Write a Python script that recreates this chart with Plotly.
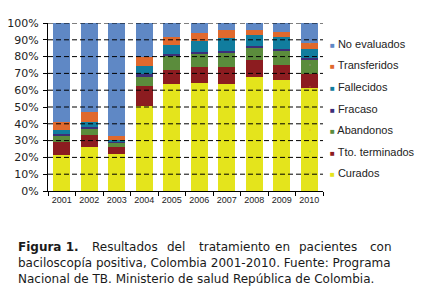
import plotly.graph_objects as go

years = ["2001", "2002", "2003", "2004", "2005", "2006", "2007", "2008", "2009", "2010"]
curados = [21.5, 26.0, 22.2, 50.4, 63.9, 64.2, 63.4, 67.8, 65.8, 61.6]
tto_terminados = [7.9, 7.5, 4.0, 12.3, 8.0, 9.4, 10.7, 9.9, 9.5, 8.1]
abandonos = [3.2, 3.8, 2.5, 5.7, 8.8, 8.0, 8.5, 7.3, 8.5, 8.0]
fracaso = [1.3, 1.0, 0.6, 1.0, 0.9, 1.4, 1.0, 1.4, 0.9, 1.2]
fallecidos = [2.3, 2.6, 1.3, 5.2, 5.6, 6.4, 7.3, 6.5, 6.8, 5.6]
transferidos = [4.6, 6.0, 2.4, 5.1, 4.4, 4.5, 5.0, 3.1, 3.0, 3.4]
no_evaluados = [59.2, 53.1, 67.0, 20.3, 8.4, 6.1, 4.1, 4.0, 5.5, 12.1]

series_names = ["Curados", "Tto. terminados", "Abandonos", "Fracaso",
                "Fallecidos", "Transferidos", "No evaluados"]
series_values = [curados, tto_terminados, abandonos, fracaso,
                 fallecidos, transferidos, no_evaluados]
colors = ["#e4e41c", "#8c1c20", "#5b8c3c", "#3d2f78",
          "#117d9e", "#e0692d", "#5f88c5"]

y_tickvals = [0, 10, 20, 30, 40, 50, 60, 70, 80, 90, 100]
y_ticktext = ["0%", "10%", "20%", "30%", "40%", "50%", "60%", "70%", "80%", "90%", "100%"]

caption_line1 = ["<b>Figura 1.</b>", "Resultados", "del", "tratamiento", "en", "pacientes", "con"]
caption_line2 = "baciloscopía positiva, Colombia 2001-2010. Fuente: Programa"
caption_line3 = "Nacional de TB. Ministerio de salud República de Colombia."

fig = go.Figure()
for name, vals, col in zip(series_names, series_values, colors):
    fig.add_trace(go.Bar(x=years, y=vals, name=name, marker=dict(color=col, line=dict(width=0)),
                         showlegend=False))

# legend entries (small squares right next to the labels), top entry = top of stack
for i, (name, col) in enumerate(zip(series_names[::-1], colors[::-1])):
    label = f'<span style="color:{col};font-size:8px">■</span> {name}'
    fig.add_trace(go.Scatter(x=[None], y=[None], mode="markers", name=label,
                             marker=dict(opacity=0, size=1), legendgroup=f"g{i}",
                             showlegend=True))

# dashed gridlines drawn above bars
for v in y_tickvals[1:]:
    fig.add_shape(type="line", xref="paper", x0=0, x1=1, yref="y", y0=v, y1=v,
                  line=dict(color="black", width=1, dash="5px,3px"), layer="above")

W, H = 421, 299
ml, mr, mt, mb = 48, 98, 23, 108
pw, ph = W - ml - mr, H - mt - mb


def px2paper_x(p):
    return (p - ml) / pw


def px2paper_y(q):
    return (H - mb - q) / ph


cap_font = dict(family="DejaVu Sans", size=12, color="#1a1a1a")
line1_x = [16, 90, 165, 196.7, 272.7, 297, 367.7]
for w, xp in zip(caption_line1, line1_x):
    fig.add_annotation(text=w, xref="paper", yref="paper", x=px2paper_x(xp), y=px2paper_y(247),
                       xanchor="left", yanchor="middle", showarrow=False, font=cap_font)
fig.add_annotation(text=caption_line2, xref="paper", yref="paper", x=px2paper_x(16), y=px2paper_y(263),
                   xanchor="left", yanchor="middle", showarrow=False, font=cap_font)
fig.add_annotation(text=caption_line3, xref="paper", yref="paper", x=px2paper_x(16), y=px2paper_y(279),
                   xanchor="left", yanchor="middle", showarrow=False, font=cap_font)

fig.update_layout(
    barmode="stack",
    bargap=0.39,
    width=W, height=H,
    margin=dict(l=ml, r=mr, t=mt, b=mb, autoexpand=False),
    paper_bgcolor="white", plot_bgcolor="white",
    showlegend=True,
    legend=dict(x=px2paper_x(290), xanchor="left", y=px2paper_y(29), yanchor="top",
                traceorder="grouped", tracegroupgap=2.6,
                font=dict(family="Liberation Sans", size=11, color="#222"),
                bgcolor="rgba(0,0,0,0)", borderwidth=0, itemclick=False),
    xaxis=dict(type="category", showline=True, linecolor="black", linewidth=1,
               ticks="outside", tickson="boundaries", ticklen=4, tickcolor="black",
               tickangle=0,
               tickfont=dict(family="Liberation Sans", size=9, color="#222"),
               showgrid=False, zeroline=False),
    yaxis=dict(range=[0, 100], tickvals=y_tickvals, ticktext=y_ticktext,
               showline=True, linecolor="black", linewidth=1,
               ticks="outside", ticklen=4, tickcolor="black", ticklabelstandoff=2,
               tickfont=dict(family="DejaVu Sans", size=11, color="#222"),
               showgrid=False, zeroline=False),
)

fig.write_html("out.html", config={"displayModeBar": False},
               post_script="document.body.style.margin='0';")
